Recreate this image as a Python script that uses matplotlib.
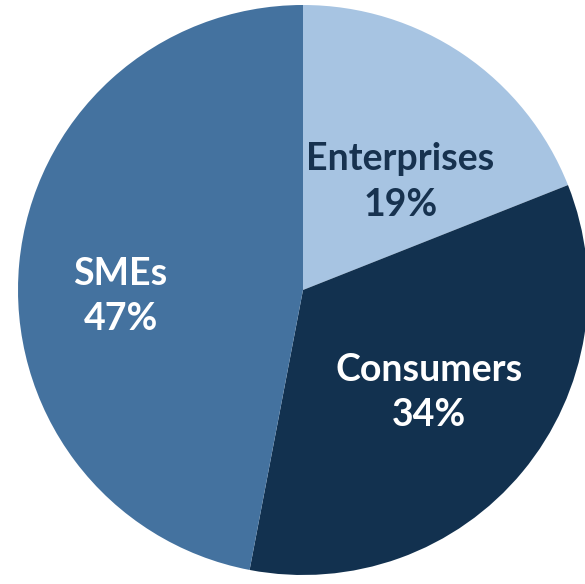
import matplotlib
matplotlib.use("Agg")
import matplotlib.pyplot as plt
import numpy as np

categories = ["Enterprises", "Consumers", "SMEs"]
values = [19, 34, 47]
colors = ["#a7c4e2", "#12314f", "#44729f"]
text_colors = ["#17324f", "#ffffff", "#ffffff"]
# label placement (radius fraction, angle in degrees)
label_pos = [(0.51, 48), (0.57, -39), (0.64, 182)]

fig = plt.figure(figsize=(5.85, 5.84), dpi=100)
ax = fig.add_axes([18/585, 9/584, 570/585, 570/584])
wedges, _ = ax.pie(values, colors=colors, startangle=90, counterclock=False,
                   radius=1, wedgeprops=dict(linewidth=0, antialiased=True))
for w in wedges:
    w.set_clip_on(False)
ax.set_xlim(-1, 1)
ax.set_ylim(-1, 1)
ax.axis("off")

total = sum(values)
for cat, v, tc, (r, ang) in zip(categories, values, text_colors, label_pos):
    a = np.deg2rad(ang)
    ax.text(r*np.cos(a), r*np.sin(a), f"{cat}\n{round(100*v/total)}%",
            ha="center", va="center", color=tc, fontsize=27,
            family="Lato", fontweight="bold", linespacing=1.4)

fig.savefig("out.png", dpi=100)
